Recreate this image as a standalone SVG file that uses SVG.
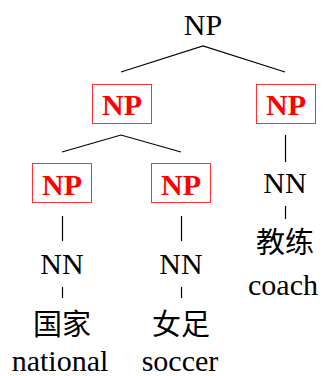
<svg xmlns="http://www.w3.org/2000/svg" width="324" height="376" viewBox="0 0 324 376">
<defs>
<style>
.box{fill:#fff;stroke:#f33;stroke-width:1}
.e{stroke:#000;stroke-width:1.2;fill:none}
.t{font-family:'Liberation Serif','Noto Sans CJK SC',serif;font-size:30px;fill:#000;text-anchor:middle}
.b{font-family:'Liberation Serif','Noto Sans CJK SC',serif;font-size:30px;font-weight:bold;fill:#f00;text-anchor:middle}
.c{font-family:'Liberation Serif','Noto Sans CJK SC',serif;font-size:29px;fill:#000;text-anchor:middle}
</style>
</defs>
<rect width="324" height="376" fill="#fff"/>
<g id="connectors">
<polyline class="e" points="121,72 203,46 285,72"/>
<polyline class="e" points="62,152 121,135 181,152"/>
<line class="e" x1="285.5" y1="135" x2="285.5" y2="162"/>
<line class="e" x1="285.5" y1="206" x2="285.5" y2="219"/>
<line class="e" x1="62.5" y1="216" x2="62.5" y2="241"/>
<line class="e" x1="181.5" y1="216" x2="181.5" y2="241"/>
<line class="e" x1="62.5" y1="287" x2="62.5" y2="298"/>
<line class="e" x1="181.5" y1="287" x2="181.5" y2="298"/>
</g>
<g id="np-root"><text class="t" x="203" y="35" xml:lang="en">NP</text></g>
<g id="np-left"><rect class="box" x="92.5" y="84.5" width="59" height="39"/><text class="b" x="122" y="115" xml:lang="en">NP</text></g>
<g id="np-right"><rect class="box" x="256.5" y="84.5" width="59" height="39"/><text class="b" x="286" y="115" xml:lang="en">NP</text></g>
<g id="np-ll"><rect class="box" x="32.5" y="163.5" width="59" height="39"/><text class="b" x="62" y="195" xml:lang="en">NP</text></g>
<g id="np-lr"><rect class="box" x="151.5" y="163.5" width="59" height="39"/><text class="b" x="181" y="195" xml:lang="en">NP</text></g>
<g id="nn-right"><text class="t" x="285" y="193" xml:lang="en">NN</text></g>
<g id="nn-ll"><text class="t" x="62" y="274" xml:lang="en">NN</text></g>
<g id="nn-lr"><text class="t" x="181" y="274" xml:lang="en">NN</text></g>
<g id="w-coach"><text class="c" x="285" y="253" xml:lang="zh">教练</text><text class="t" x="283" y="295" xml:lang="en">coach</text></g>
<g id="w-national"><text class="c" x="62" y="335" xml:lang="zh">国家</text><text class="t" x="60" y="371" xml:lang="en">national</text></g>
<g id="w-soccer"><text class="c" x="181" y="335" xml:lang="zh">女足</text><text class="t" x="180" y="371" xml:lang="en">soccer</text></g>
</svg>
